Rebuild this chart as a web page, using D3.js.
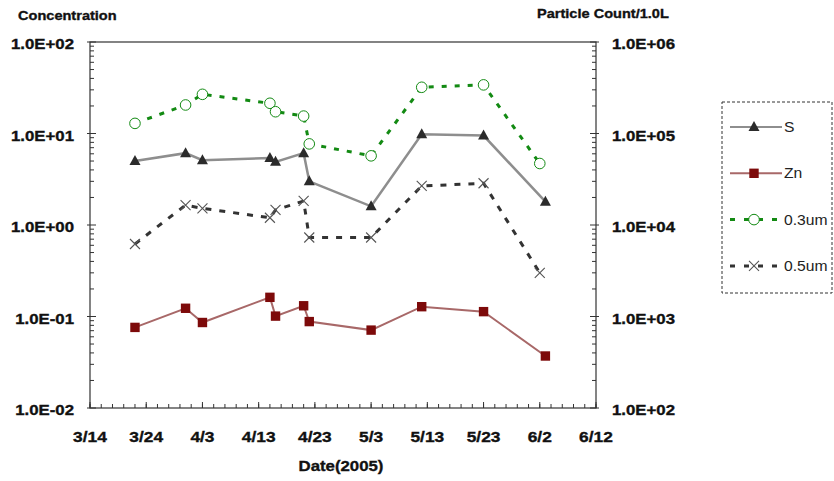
<!DOCTYPE html>
<html>
<head>
<meta charset="utf-8">
<script src="https://cdn.jsdelivr.net/npm/d3@7"></script>
<style>
  html, body { margin: 0; padding: 0; background: #fff; }
  svg { display: block; font-family: "Liberation Sans", Arial, sans-serif; }
</style>
</head>
<body>
<svg id="chart" width="834" height="481"></svg>
<script>
// Sampling dates (2005) for the chemical analyses and the particle counts
const chemDates = ["3/22", "3/31", "4/3", "4/15", "4/16", "4/21", "4/22", "5/3", "5/12", "5/23", "6/3"];
const particleDates = ["3/22", "3/31", "4/3", "4/15", "4/16", "4/21", "4/22", "5/3", "5/12", "5/23", "6/2"];

// Concentrations (left axis)
const sValues = [5.0, 6.1, 5.1, 5.4, 4.9, 6.1, 3.0, 1.6, 9.8, 9.5, 1.8];
const znValues = [0.076, 0.123, 0.086, 0.162, 0.101, 0.131, 0.088, 0.071, 0.128, 0.113, 0.037];

// Particle counts per 1.0 L (right axis)
const pc03Values = [1.29e5, 2.05e5, 2.68e5, 2.14e5, 1.73e5, 1.55e5, 7.7e4, 5.7e4, 3.2e5, 3.4e5, 4.7e4];
const pc05Values = [6.2e3, 1.65e4, 1.52e4, 1.2e4, 1.46e4, 1.83e4, 7.3e3, 7.3e3, 2.67e4, 2.86e4, 3.0e3];

// Axis ticks and labels
const xTickLabels = ["3/14", "3/24", "4/3", "4/13", "4/23", "5/3", "5/13", "5/23", "6/2", "6/12"];
const leftTicks = [1e-2, 1e-1, 1, 10, 100];
const leftTickLabels = ["1.0E-02", "1.0E-01", "1.0E+00", "1.0E+01", "1.0E+02"];
const rightTicks = [1e2, 1e3, 1e4, 1e5, 1e6];
const rightTickLabels = ["1.0E+02", "1.0E+03", "1.0E+04", "1.0E+05", "1.0E+06"];

const seriesNames = ["S", "Zn", "0.3um", "0.5um"];

const parseDay = s => { const [m, d] = s.split("/").map(Number); return new Date(Date.UTC(2005, m - 1, d)); };

const svg = d3.select("#chart");
const plot = { left: 90, right: 596, top: 42, bottom: 408 };
const sx = 1.12; // horizontal stretch of the chart lettering

const x = d3.scaleUtc()
  .domain([parseDay(xTickLabels[0]), parseDay(xTickLabels[xTickLabels.length - 1])])
  .range([plot.left, plot.right]);
const yL = d3.scaleLog().domain([1e-2, 1e2]).range([plot.bottom, plot.top]);
const yR = d3.scaleLog().domain([1e2, 1e6]).range([plot.bottom, plot.top]);

function label(g, tx, ty, text, opts) {
  const bold = (opts.weight || "bold") === "bold";
  return g.append("text")
    .attr("transform", `translate(${tx},${ty}) scale(${sx},1)`)
    .attr("font-size", opts.size)
    .attr("font-weight", opts.weight || "bold")
    .attr("text-anchor", opts.anchor || "start")
    .attr("fill", opts.fill || "#111")
    .attr("stroke", bold ? (opts.fill || "#111") : null)
    .attr("stroke-width", bold ? 0.35 : null)
    .text(text);
}

const axisColor = "#333";

// Plot frame
svg.append("rect")
  .attr("x", plot.left).attr("y", plot.top)
  .attr("width", plot.right - plot.left).attr("height", plot.bottom - plot.top)
  .attr("fill", "none").attr("stroke", axisColor).attr("stroke-width", 1.2);

// X axis: minor ticks every 2 days, major ticks every 10 days (drawn inward)
const gx = svg.append("g");
const d0 = x.domain()[0];
const minorDates = d3.utcDay.range(d0, d3.utcDay.offset(x.domain()[1], 1)).filter((d, i) => i % 2 === 0);
gx.selectAll("line.minor").data(minorDates).join("line")
  .attr("x1", d => x(d)).attr("x2", d => x(d))
  .attr("y1", plot.bottom).attr("y2", plot.bottom - 4)
  .attr("stroke", axisColor).attr("stroke-width", 1);
gx.selectAll("line.major").data(xTickLabels).join("line")
  .attr("x1", d => x(parseDay(d))).attr("x2", d => x(parseDay(d)))
  .attr("y1", plot.bottom).attr("y2", plot.bottom - 6)
  .attr("stroke", axisColor).attr("stroke-width", 1);
xTickLabels.forEach(d => label(gx, x(parseDay(d)), 442, d, { size: 15.5, anchor: "middle" }));

// Log axes: minor ticks at 2..9 of each decade, major ticks at each decade
function logTicks(scale, xPos, dir, majors, labels, labelX, anchor) {
  const g = svg.append("g");
  const minors = scale.ticks().filter(v => !majors.includes(v));
  g.selectAll("line.minor").data(minors).join("line")
    .attr("x1", xPos).attr("x2", xPos + dir * 4)
    .attr("y1", d => scale(d)).attr("y2", d => scale(d))
    .attr("stroke", axisColor).attr("stroke-width", 1);
  g.selectAll("line.major").data(majors).join("line")
    .attr("x1", xPos - dir * 3).attr("x2", xPos + dir * 6)
    .attr("y1", d => scale(d)).attr("y2", d => scale(d))
    .attr("stroke", axisColor).attr("stroke-width", 1);
  majors.forEach((v, i) => label(g, labelX, scale(v) + 7, labels[i], { size: 15, anchor }));
}
logTicks(yL, plot.left, 1, leftTicks, leftTickLabels, 74, "end");
logTicks(yR, plot.right, -1, rightTicks, rightTickLabels, 612, "start");

// Axis titles
label(svg, 18, 20, "Concentration", { size: 13 });
label(svg, 537, 18, "Particle Count/1.0L", { size: 13 });
label(svg, 341, 471, "Date(2005)", { size: 15, anchor: "middle" });

// Series styles
const styles = {
  "S":     { stroke: "#8e8e8e", width: 2.5, dash: null, marker: "tri" },
  "Zn":    { stroke: "#a86868", width: 2, dash: null, marker: "sq" },
  "0.3um": { stroke: "#138a13", width: 3, dash: "5,8", marker: "circ" },
  "0.5um": { stroke: "#333333", width: 3, dash: "6,8", marker: "cross" }
};

function drawMarker(g, type, cx, cy) {
  if (type === "tri") {
    g.append("path").attr("d", `M${cx},${cy - 6}L${cx + 5.5},${cy + 4}L${cx - 5.5},${cy + 4}Z`)
      .attr("fill", "#2b2b2b");
  } else if (type === "sq") {
    g.append("rect").attr("x", cx - 4.7).attr("y", cy - 4.7).attr("width", 9.4).attr("height", 9.4)
      .attr("fill", "#7d0a0a");
  } else if (type === "circ") {
    g.append("circle").attr("cx", cx).attr("cy", cy).attr("r", 5.3)
      .attr("fill", "#fff").attr("stroke", "#138a13").attr("stroke-width", 1);
  } else if (type === "cross") {
    g.append("path").attr("d", `M${cx - 5},${cy - 5}L${cx + 5},${cy + 5}M${cx - 5},${cy + 5}L${cx + 5},${cy - 5}`)
      .attr("stroke", "#555").attr("stroke-width", 1.1).attr("fill", "none");
  }
}

function drawSeries(name, dates, values, yScale) {
  const st = styles[name];
  const pts = dates.map((d, i) => [x(parseDay(d)), yScale(values[i])]);
  const g = svg.append("g");
  g.append("path").attr("d", d3.line()(pts))
    .attr("fill", "none").attr("stroke", st.stroke).attr("stroke-width", st.width)
    .attr("stroke-dasharray", st.dash);
  pts.forEach(p => drawMarker(g, st.marker, p[0], p[1]));
}

drawSeries("0.3um", particleDates, pc03Values, yR);
drawSeries("0.5um", particleDates, pc05Values, yR);
drawSeries("S", chemDates, sValues, yL);
drawSeries("Zn", chemDates, znValues, yL);

// Legend
const lg = svg.append("g");
lg.append("rect").attr("x", 722).attr("y", 102).attr("width", 110).attr("height", 191)
  .attr("fill", "#fff").attr("stroke", "#333").attr("stroke-width", 1).attr("stroke-dasharray", "3,2");
seriesNames.forEach((name, i) => {
  const st = styles[name];
  const cy = 127 + i * 46.3;
  lg.append("line").attr("x1", 730).attr("x2", 782).attr("y1", cy).attr("y2", cy)
    .attr("stroke", st.stroke).attr("stroke-width", st.width === 3 ? 3 : 2)
    .attr("stroke-dasharray", st.dash ? "5,9" : null);
  drawMarker(lg, st.marker, 754, cy);
  label(lg, 784, cy + 5, name, { size: 14, weight: "normal", fill: "#222" });
});
</script>
</body>
</html>
